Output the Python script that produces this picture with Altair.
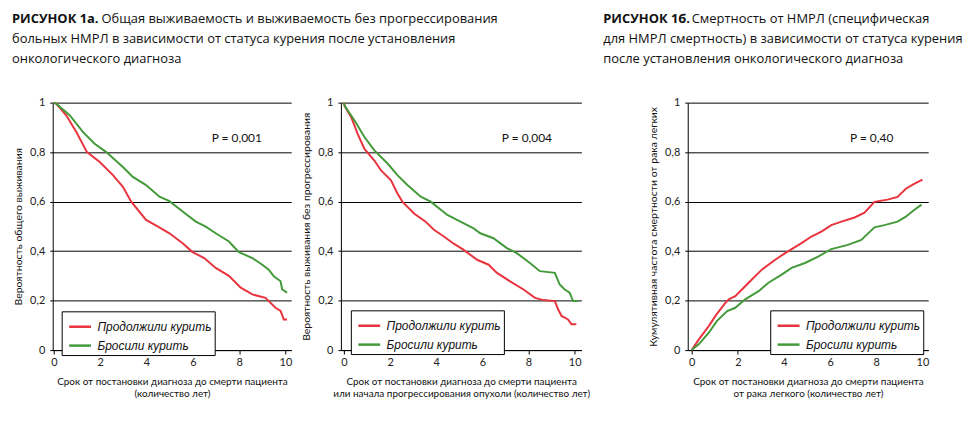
import altair as alt
import pandas as pd

# ---------------- data ----------------
groups = ["Продолжили курить", "Бросили курить"]
colors = ["#e8343f", "#449a3a"]

os_red_t = [0.0, 0.11, 0.54, 0.97, 1.43, 1.98, 2.55, 2.98, 3.34, 3.98, 4.48, 4.99, 5.56, 5.99, 6.49, 6.99, 7.56, 8.07, 8.57, 9.14, 9.28, 9.57, 9.79, 9.93, 10.07]
os_red_p = [1.0, 0.995, 0.948, 0.881, 0.80, 0.76, 0.707, 0.66, 0.60, 0.526, 0.50, 0.472, 0.432, 0.396, 0.372, 0.332, 0.30, 0.252, 0.225, 0.211, 0.198, 0.171, 0.158, 0.124, 0.124]
os_green_t = [0.0, 0.11, 0.69, 1.26, 1.76, 2.26, 2.98, 3.41, 3.98, 4.56, 4.99, 5.56, 6.13, 6.56, 6.99, 7.56, 7.99, 8.57, 9.0, 9.28, 9.50, 9.79, 9.86, 10.07]
os_green_p = [1.0, 0.995, 0.948, 0.881, 0.834, 0.80, 0.74, 0.70, 0.667, 0.62, 0.602, 0.56, 0.519, 0.499, 0.472, 0.439, 0.396, 0.372, 0.345, 0.325, 0.298, 0.278, 0.245, 0.232]

pfs_red_t = [0.0, 0.03, 0.32, 0.6, 0.89, 1.32, 1.61, 2.04, 2.32, 2.54, 3.04, 3.54, 3.9, 4.33, 4.76, 5.19, 5.77, 6.27, 6.63, 7.2, 7.78, 8.28, 8.64, 9.14, 9.28, 9.43, 9.71, 9.86, 10.07]
pfs_red_p = [1.0, 0.987, 0.94, 0.873, 0.813, 0.766, 0.726, 0.686, 0.633, 0.599, 0.552, 0.519, 0.486, 0.459, 0.43, 0.405, 0.365, 0.345, 0.312, 0.278, 0.245, 0.211, 0.202, 0.198, 0.165, 0.138, 0.124, 0.104, 0.104]
pfs_green_t = [0.0, 0.03, 0.46, 0.89, 1.32, 1.89, 2.32, 2.75, 3.33, 3.76, 4.48, 5.05, 5.62, 5.91, 6.48, 7.06, 7.49, 8.06, 8.49, 9.14, 9.35, 9.57, 9.78, 9.93, 10.14]
pfs_green_p = [1.0, 0.987, 0.928, 0.861, 0.807, 0.754, 0.707, 0.667, 0.62, 0.60, 0.546, 0.519, 0.492, 0.472, 0.452, 0.412, 0.392, 0.352, 0.319, 0.312, 0.265, 0.245, 0.232, 0.198, 0.198]

cm_red_t = [0.0, 0.32, 0.75, 1.03, 1.46, 1.61, 1.89, 2.18, 2.61, 3.04, 3.62, 4.05, 4.33, 4.76, 5.19, 5.62, 6.05, 6.49, 7.06, 7.49, 7.92, 8.49, 8.92, 9.28, 9.64, 10.0]
cm_red_p = [0.0, 0.044, 0.098, 0.138, 0.191, 0.205, 0.218, 0.245, 0.285, 0.325, 0.365, 0.392, 0.408, 0.432, 0.459, 0.479, 0.505, 0.519, 0.536, 0.555, 0.599, 0.608, 0.619, 0.652, 0.672, 0.689]
cm_green_t = [0.0, 0.32, 0.75, 1.1, 1.54, 1.89, 2.32, 2.9, 3.33, 3.9, 4.33, 4.91, 5.48, 6.05, 6.77, 7.35, 7.92, 8.35, 8.92, 9.28, 9.64, 9.96]
cm_green_p = [0.0, 0.024, 0.071, 0.118, 0.158, 0.171, 0.205, 0.238, 0.272, 0.305, 0.332, 0.352, 0.378, 0.408, 0.425, 0.445, 0.496, 0.505, 0.519, 0.539, 0.566, 0.588]

y_titles = ["Вероятность общего выживания",
            "Вероятность выживания без прогрессирования",
            "Кумулятивная частота смертности от рака легких"]
x_titles = [["Срок от постановки диагноза до смерти пациента", "(количество лет)"],
            ["Срок от постановки диагноза до смерти пациента", "или начала прогрессирования опухоли (количество лет)"],
            ["Срок от постановки диагноза до смерти пациента", "от рака легкого (количество лет)"]]
p_labels = ["P = 0,001", "P = 0,004", "P = 0,40"]
p_pos_t = [7.9, 7.93, 7.8]
p_pos_p = [0.855, 0.855, 0.855]
x_ticks = [0, 2, 4, 6, 8, 10]
y_ticks = [0, 0.2, 0.4, 0.6, 0.8, 1.0]

head_left_bold = "РИСУНОК 1а."
head_left = ["Общая выживаемость и выживаемость без прогрессирования",
             "больных НМРЛ в зависимости от статуса курения после установления",
             "онкологического диагноза"]
head_right_bold = "РИСУНОК 1б."
head_right = ["Смертность от НМРЛ (специфическая",
              "для НМРЛ смертность) в зависимости от статуса курения",
              "после установления онкологического диагноза"]

NARROW = "Lato"
HEADF = "Open Sans"


def frame(rt, rp, gt, gp):
    return pd.concat([
        pd.DataFrame({"t": rt, "p": rp, "group": groups[0]}),
        pd.DataFrame({"t": gt, "p": gp, "group": groups[1]}),
    ], ignore_index=True)


def panel(df, i, xdom, width, legx, legy):
    lines = alt.Chart(df).mark_line(strokeWidth=2).encode(
        x=alt.X("t:Q", scale=alt.Scale(domain=xdom, nice=False, zero=False),
                axis=alt.Axis(values=x_ticks, title=x_titles[i], grid=False,
                              tickSize=4, labelPadding=3, titlePadding=9,
                              titleFontSize=10, titleLineHeight=12)),
        y=alt.Y("p:Q", scale=alt.Scale(domain=[0, 1], nice=False),
                axis=alt.Axis(values=y_ticks, title=y_titles[i], grid=True,
                              tickSize=3, labelPadding=5, titlePadding=6,
                              labelExpr="datum.value == 0 ? '0' : datum.value == 1 ? '1' : replace(format(datum.value, '.1f'), '.', ',')")),
        color=alt.Color("group:N", scale=alt.Scale(domain=groups, range=colors),
                        legend=alt.Legend(title=None, orient="none", legendX=legx, legendY=legy,
                                          strokeColor="black", fillColor="white", padding=3,
                                          symbolOffset=3, symbolType="stroke", symbolSize=484,
                                          symbolStrokeWidth=2.5, labelOffset=5, rowPadding=0,
                                          labelFont="Liberation Sans", labelFontSize=12,
                                          labelFontStyle="italic", labelColor="#111")),
        order=alt.Order("t:Q"),
    )
    ptxt = alt.Chart(pd.DataFrame({"t": [p_pos_t[i]], "p": [p_pos_p[i]], "label": [p_labels[i]]})).mark_text(
        font=NARROW, fontSize=12, color="#111", align="center", baseline="middle"
    ).encode(x="t:Q", y="p:Q", text="label:N")
    return alt.layer(lines, ptxt).properties(width=width, height=249)


p1 = panel(frame(os_red_t, os_red_p, os_green_t, os_green_p), 0, [-0.05, 10.25], 240, 9, 210)
p2 = panel(frame(pfs_red_t, pfs_red_p, pfs_green_t, pfs_green_p), 1, [-0.13, 10.29], 242, 10, 209)
p3 = panel(frame(cm_red_t, cm_red_p, cm_green_t, cm_green_p), 2, [-0.17, 10.25], 242, 83, 209)

# empty spacer column between the pair of panels and the third panel
spacer = alt.Chart(pd.DataFrame({"a": [0]})).mark_point(opacity=0).encode(
    x=alt.value(0), y=alt.value(0)).properties(width=7, height=249)

# header (positions relative to left edge of first plot)
hdr_df = pd.DataFrame({"a": [0]})
hx_left, hx_right = -41, 554
hx_left2, hx_right2 = 49, 643
hy = [14, 34, 54]
layers = []
def htext(x, y, s, bold=False):
    return alt.Chart(hdr_df).mark_text(font=HEADF, fontSize=13, align="left", baseline="alphabetic",
                                       fontWeight="bold" if bold else "normal", color="#111").encode(
        x=alt.value(x), y=alt.value(y), text=alt.value(s))
layers.append(htext(hx_left, hy[0], head_left_bold, True))
layers.append(htext(hx_left2, hy[0], head_left[0]))
layers.append(htext(hx_left, hy[1], head_left[1]))
layers.append(htext(hx_left, hy[2], head_left[2]))
layers.append(htext(hx_right, hy[0], head_right_bold, True))
layers.append(htext(hx_right2, hy[0], head_right[0]))
layers.append(htext(hx_right, hy[1], head_right[1]))
layers.append(htext(hx_right, hy[2], head_right[2]))
header = alt.layer(*layers).properties(width=881, height=80)

row = alt.hconcat(p1, p2, spacer, p3, spacing=50, bounds="flush").resolve_scale(
    color="independent").resolve_legend(color="independent")
chart = alt.vconcat(header, row, spacing=14, bounds="flush", center=False).properties(
    padding={"left": 4, "top": 0, "right": 0, "bottom": 0}
).resolve_scale(color="independent").resolve_legend(color="independent").configure_view(stroke=None).configure_axis(
    domainColor="black", tickColor="black", gridColor="black", gridWidth=1,
    labelFont=NARROW, labelFontSize=11, labelColor="#222",
    titleFont=NARROW, titleFontSize=10.5, titleFontWeight="normal", titleColor="#111",
)

chart.save("out.html", embed_options={"renderer": "svg", "actions": False})
